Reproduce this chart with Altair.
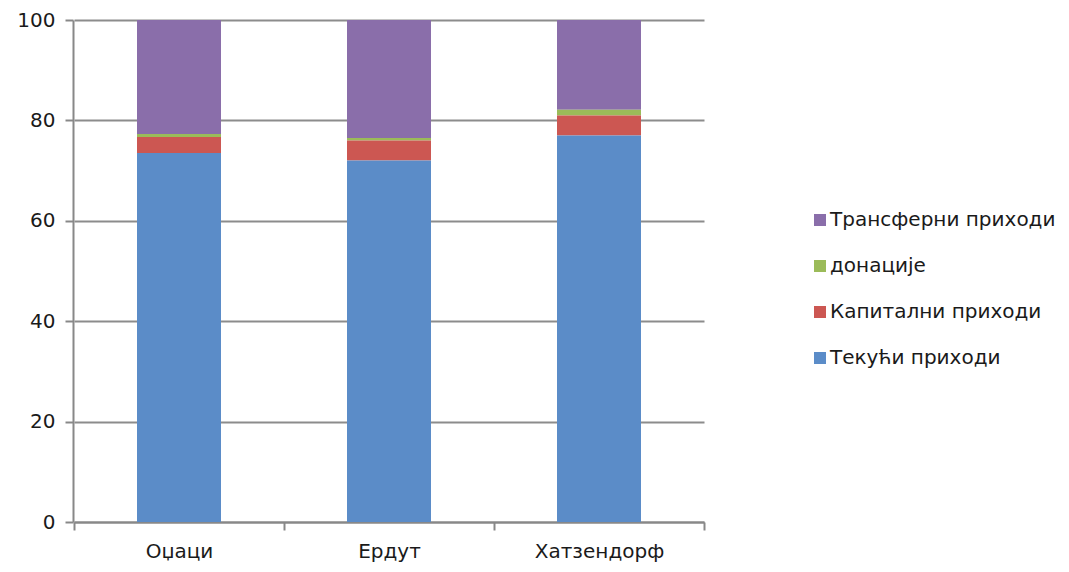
import altair as alt
import pandas as pd

places = ["Оџаци", "Ердут", "Хатзендорф"]
series = ["Трансферни приходи", "донације", "Капитални приходи", "Текући приходи"]
stack_order = [4, 3, 2, 1]
colors = ["#8A6EAA", "#9BBB59", "#CC5752", "#5B8CC8"]
tekuci = [73.5, 72.0, 77.0]
kapitalni = [3.2, 4.0, 4.0]
donacije = [0.6, 0.5, 1.1]
transferni = [22.7, 23.5, 17.9]

values = {
    "Трансферни приходи": transferni,
    "донације": donacije,
    "Капитални приходи": kapitalni,
    "Текући приходи": tekuci,
}
rows = []
for s, o in zip(series, stack_order):
    for p, v in zip(places, values[s]):
        rows.append({"place": p, "series": s, "ord": o, "value": v})
df = pd.DataFrame(rows)

FONT = "DejaVu Sans"

chart = alt.Chart(df).mark_bar(stroke=None, width=alt.RelativeBandSize(0.4)).encode(
    x=alt.X("place:N", sort=places, title=None,
            scale=alt.Scale(paddingInner=0, paddingOuter=0, range=[1, 631]),
            axis=alt.Axis(labelAngle=0, labelFontSize=20, labelFont=FONT, labelColor="#1a1a1a",
                          tickBand="extent", tickSize=8, tickColor="#888", tickWidth=2,
                          domainColor="#888", domainWidth=2, labelPadding=11, grid=False)),
    y=alt.Y("value:Q", stack="zero", title=None,
            scale=alt.Scale(domain=[0, 100], nice=False),
            axis=alt.Axis(values=[0, 20, 40, 60, 80, 100], labelFontSize=20, labelFont=FONT,
                          labelColor="#1a1a1a", tickSize=8, tickColor="#888", tickWidth=2,
                          domainColor="#888", domainWidth=2, labelPadding=10,
                          grid=True, gridColor="#8c8c8c", gridWidth=2)),
    color=alt.Color("series:N", scale=alt.Scale(domain=series, range=colors),
                    legend=alt.Legend(title=None, orient="none", legendX=737, legendY=190,
                                      labelFontSize=20, labelFont=FONT, labelColor="#1a1a1a",
                                      labelLimit=400,
                                      symbolType="square", symbolSize=144, symbolStrokeWidth=0,
                                      rowPadding=26, labelOffset=0)),
    order=alt.Order("ord:Q"),
).properties(
    width=620, height=502,
    autosize=alt.AutoSizeParams(type="none"),
    padding={"left": 65, "top": 12, "right": 368, "bottom": 48},
).configure_view(stroke=None)

chart.save("out.html", embed_options={"renderer": "svg", "actions": False})
